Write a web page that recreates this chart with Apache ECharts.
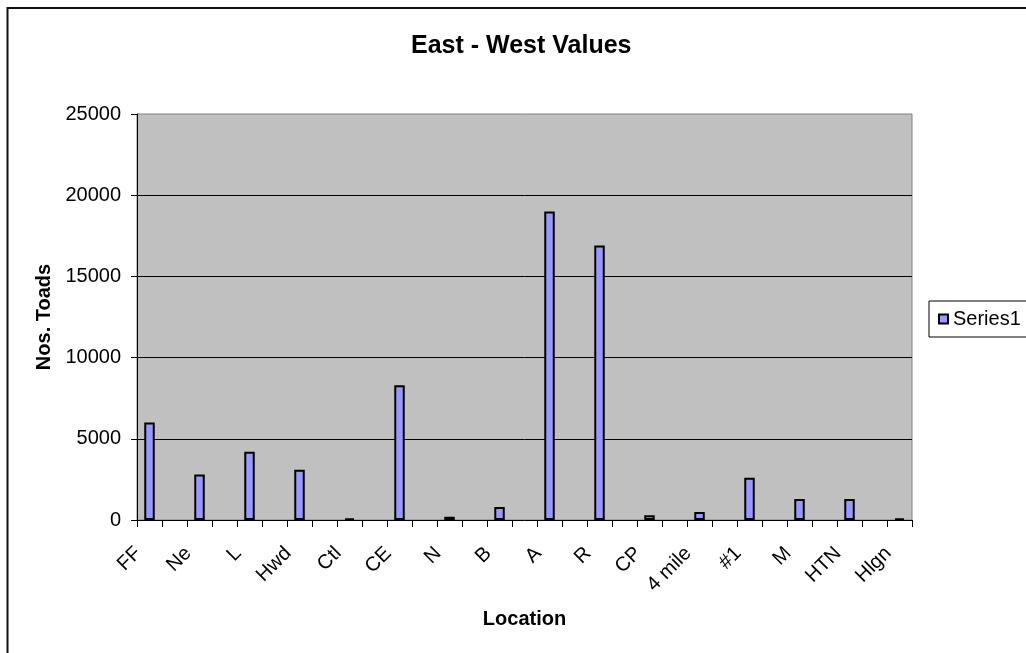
<!DOCTYPE html>
<html>
<head>
<meta charset="utf-8">
<title>East - West Values</title>
<script src="https://cdn.jsdelivr.net/npm/echarts@6/dist/echarts.min.js"></script>
<style>
    html, body { margin: 0; padding: 0; background: #fff; }
    #chart { width: 1026px; height: 653px; }
</style>
</head>
<body>
<div id="chart"></div>
<script>
//--------------------------------
// Data
//--------------------------------
const locations = ['FF', 'Ne', 'L', 'Hwd', 'Ctl', 'CE', 'N', 'B', 'A', 'R', 'CP', '4 mile', '#1', 'M', 'HTN', 'Hlgn'];
const toads = [6000, 2800, 4200, 3100, 100, 8300, 200, 800, 19000, 16900, 300, 500, 2600, 1300, 1300, 100];
const yTicks = [0, 5000, 10000, 15000, 20000, 25000];

//--------------------------------
// Local Function
//--------------------------------
// the sheet had an empty row between every location, so each one
// is followed by a blank category (except the last)
const buildAxis = () => {
    let cats = [];
    let vals = [];
    locations.forEach((name, i) => {
        cats.push(name);
        vals.push(toads[i]);
        if (i < locations.length - 1) {
            cats.push('');
            vals.push('-');
        }
    });
    return { cats, vals };
};

const renderChart = () => {
    const myChart = echarts.init(document.getElementById('chart'));
    const { cats, vals } = buildAxis();
    const font = 'Liberation Sans, Arial, sans-serif';

    let options = {
        animation: false,
        textStyle: { fontFamily: font, color: '#000' },
        graphic: [
            {
                // chart area frame (cut off at right and bottom)
                type: 'rect',
                shape: { x: 7.5, y: 8, width: 1200, height: 1000 },
                style: { fill: 'none', stroke: '#111', lineWidth: 2 },
                silent: true
            }
        ],
        title: {
            text: 'East - West Values',
            left: 411,
            top: 34,
            padding: 0,
            textStyle: { fontFamily: font, fontSize: 25, fontWeight: 'bold', color: '#000' }
        },
        legend: {
            left: 929,
            top: 301,
            orient: 'vertical',
            icon: 'rect',
            itemWidth: 9,
            itemHeight: 9,
            padding: [8, 100, 8, 9],
            borderColor: '#000',
            borderWidth: 1,
            textStyle: { fontFamily: font, fontSize: 20, color: '#000' },
            data: ['Series1']
        },
        grid: {
            left: 137,
            right: 114,
            top: 114,
            bottom: 133,
            show: true,
            backgroundColor: '#C0C0C0',
            borderColor: '#808080',
            borderWidth: 1
        },
        xAxis: {
            type: 'category',
            data: cats,
            name: 'Location',
            nameLocation: 'middle',
            nameGap: 89,
            nameTextStyle: { fontFamily: font, fontSize: 20, fontWeight: 'bold', color: '#000' },
            axisLine: { lineStyle: { color: '#000', width: 1 } },
            axisTick: { show: true, interval: 0, length: 7, lineStyle: { color: '#000', width: 1 } },
            axisLabel: {
                interval: 0,
                rotate: 45,
                margin: 19,
                padding: [0, 16, 0, 0],
                fontFamily: font,
                fontSize: 20,
                color: '#000'
            },
            splitLine: { show: false }
        },
        yAxis: {
            type: 'value',
            min: yTicks[0],
            max: yTicks[yTicks.length - 1],
            interval: yTicks[1] - yTicks[0],
            name: 'Nos. Toads',
            nameLocation: 'middle',
            nameGap: 80,
            nameTextStyle: { fontFamily: font, fontSize: 20, fontWeight: 'bold', color: '#000' },
            axisLine: { show: true, lineStyle: { color: '#000', width: 1 } },
            axisTick: { show: true, length: 6, lineStyle: { color: '#000' } },
            axisLabel: {
                margin: 16,
                fontFamily: font,
                fontSize: 20,
                color: '#000',
                formatter: (v) => String(v)
            },
            splitLine: {
                show: true,
                showMinLine: false,
                showMaxLine: false,
                lineStyle: { color: '#000', width: 1 }
            }
        },
        series: [
            {
                name: 'Series1',
                type: 'bar',
                barWidth: '42%',
                itemStyle: { color: '#9999FF', borderColor: '#000', borderWidth: 2 },
                emphasis: { disabled: true },
                data: vals
            }
        ]
    };

    myChart.setOption(options);
};

renderChart();
</script>
</body>
</html>
